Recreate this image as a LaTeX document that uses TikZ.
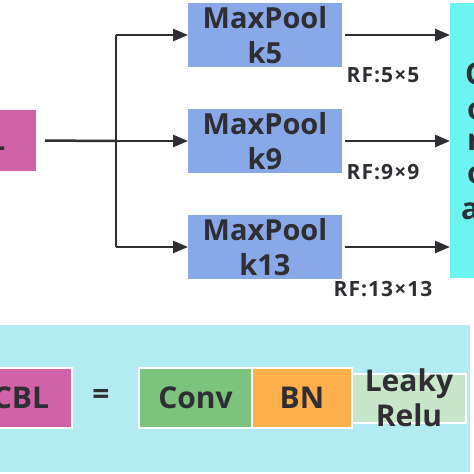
\documentclass[tikz,border=0pt]{standalone}
\usepackage{fontspec}
\setmainfont{Open Sans}
\usetikzlibrary{arrows.meta,positioning}

\definecolor{cblpink}{HTML}{D062A8}
\definecolor{poolblue}{HTML}{88A8E8}
\definecolor{concatcyan}{HTML}{6EF4F0}
\definecolor{panelcyan}{HTML}{B2EBF1}
\definecolor{convgreen}{HTML}{7CC47E}
\definecolor{bnorange}{HTML}{FFB04C}
\definecolor{relugreen}{HTML}{C8E6CA}
\definecolor{inkdark}{HTML}{2E2E33}

\tikzset{
  box/.style={draw=white, line width=2pt, inner sep=0pt, outer sep=0pt, align=center},
  flow/.style={line width=2.5pt, draw=inkdark, -{Triangle[length=15pt,width=12pt]}},
  big/.style={font=\fontsize{29}{35}\selectfont\bfseries},
  key/.style={font=\fontsize{30}{35}\selectfont\bfseries},
  rflabel/.style={font=\fontsize{21}{24}\selectfont\bfseries\addfontfeatures{LetterSpace=5}}
}

\begin{document}
\begin{tikzpicture}[x=1pt,y=-1pt,color=inkdark]
  \clip (0,0) rectangle (474,474);
  \fill[white] (0,0) rectangle (474,474);

  % spp block
  \node[box, draw=none, fill=cblpink, minimum width=116pt, minimum height=61pt, big] (cbl) at (-22,140.5) {CBL};
  \node[box, draw=none, fill=concatcyan, minimum width=100pt, minimum height=275pt] (concat) at (500,140.5) {};
  \foreach \t/\x [count=\i] in {Concat/465, of/467, max/467, outputs/467, along/461}
    \node[anchor=west, inner sep=0pt, key] (cc\i) at (\x,39+34.5*\i) {\t};

  \coordinate (split) at (116,141);
  \draw[line width=2.5pt, draw=inkdark, shorten <=9pt] (cbl.east) -- (split);

  \foreach \k/\y/\rf/\ry in {5/35/{RF:5×5}/75, 9/141/{RF:9×9}/172, 13/247/{RF:13×13}/289}
  {
    \node[box, draw=none, fill=poolblue, minimum width=154pt, minimum height=64pt, big] (pool\k) at (265,\y) {MaxPool\\k\k};
    \draw[flow] (split |- pool\k) -- (pool\k.west);
    \draw[flow, shorten <=3pt] (pool\k.east) -- (pool\k.east -| concat.west);
    \node[rflabel] (rf\k) at (383,\ry) {\rf};
  }
  \draw[line width=2.5pt, draw=inkdark] (split |- pool5) -- (split |- pool13);

  % legend
  \fill[panelcyan] (0,325) rectangle (470,472);
  \node[box, fill=cblpink, minimum width=102pt, minimum height=60pt, key] (cblkey) at (21,398) {CBL};
  \node[key] (eq) at (101,397) {=};
  \node[box, fill=convgreen, minimum width=113pt, minimum height=60pt, key] (conv) at (195.5,398) {Conv};
  \node[box, fill=bnorange, minimum width=100pt, minimum height=60pt, key, right=0pt of conv] (bn) {BN};
  \node[box, fill=relugreen, minimum width=114pt, minimum height=49pt, right=0pt of bn] (relu) {};
  \node[key, align=center] (relutext) at (relu) {Leaky\\Relu};
\end{tikzpicture}
\end{document}
